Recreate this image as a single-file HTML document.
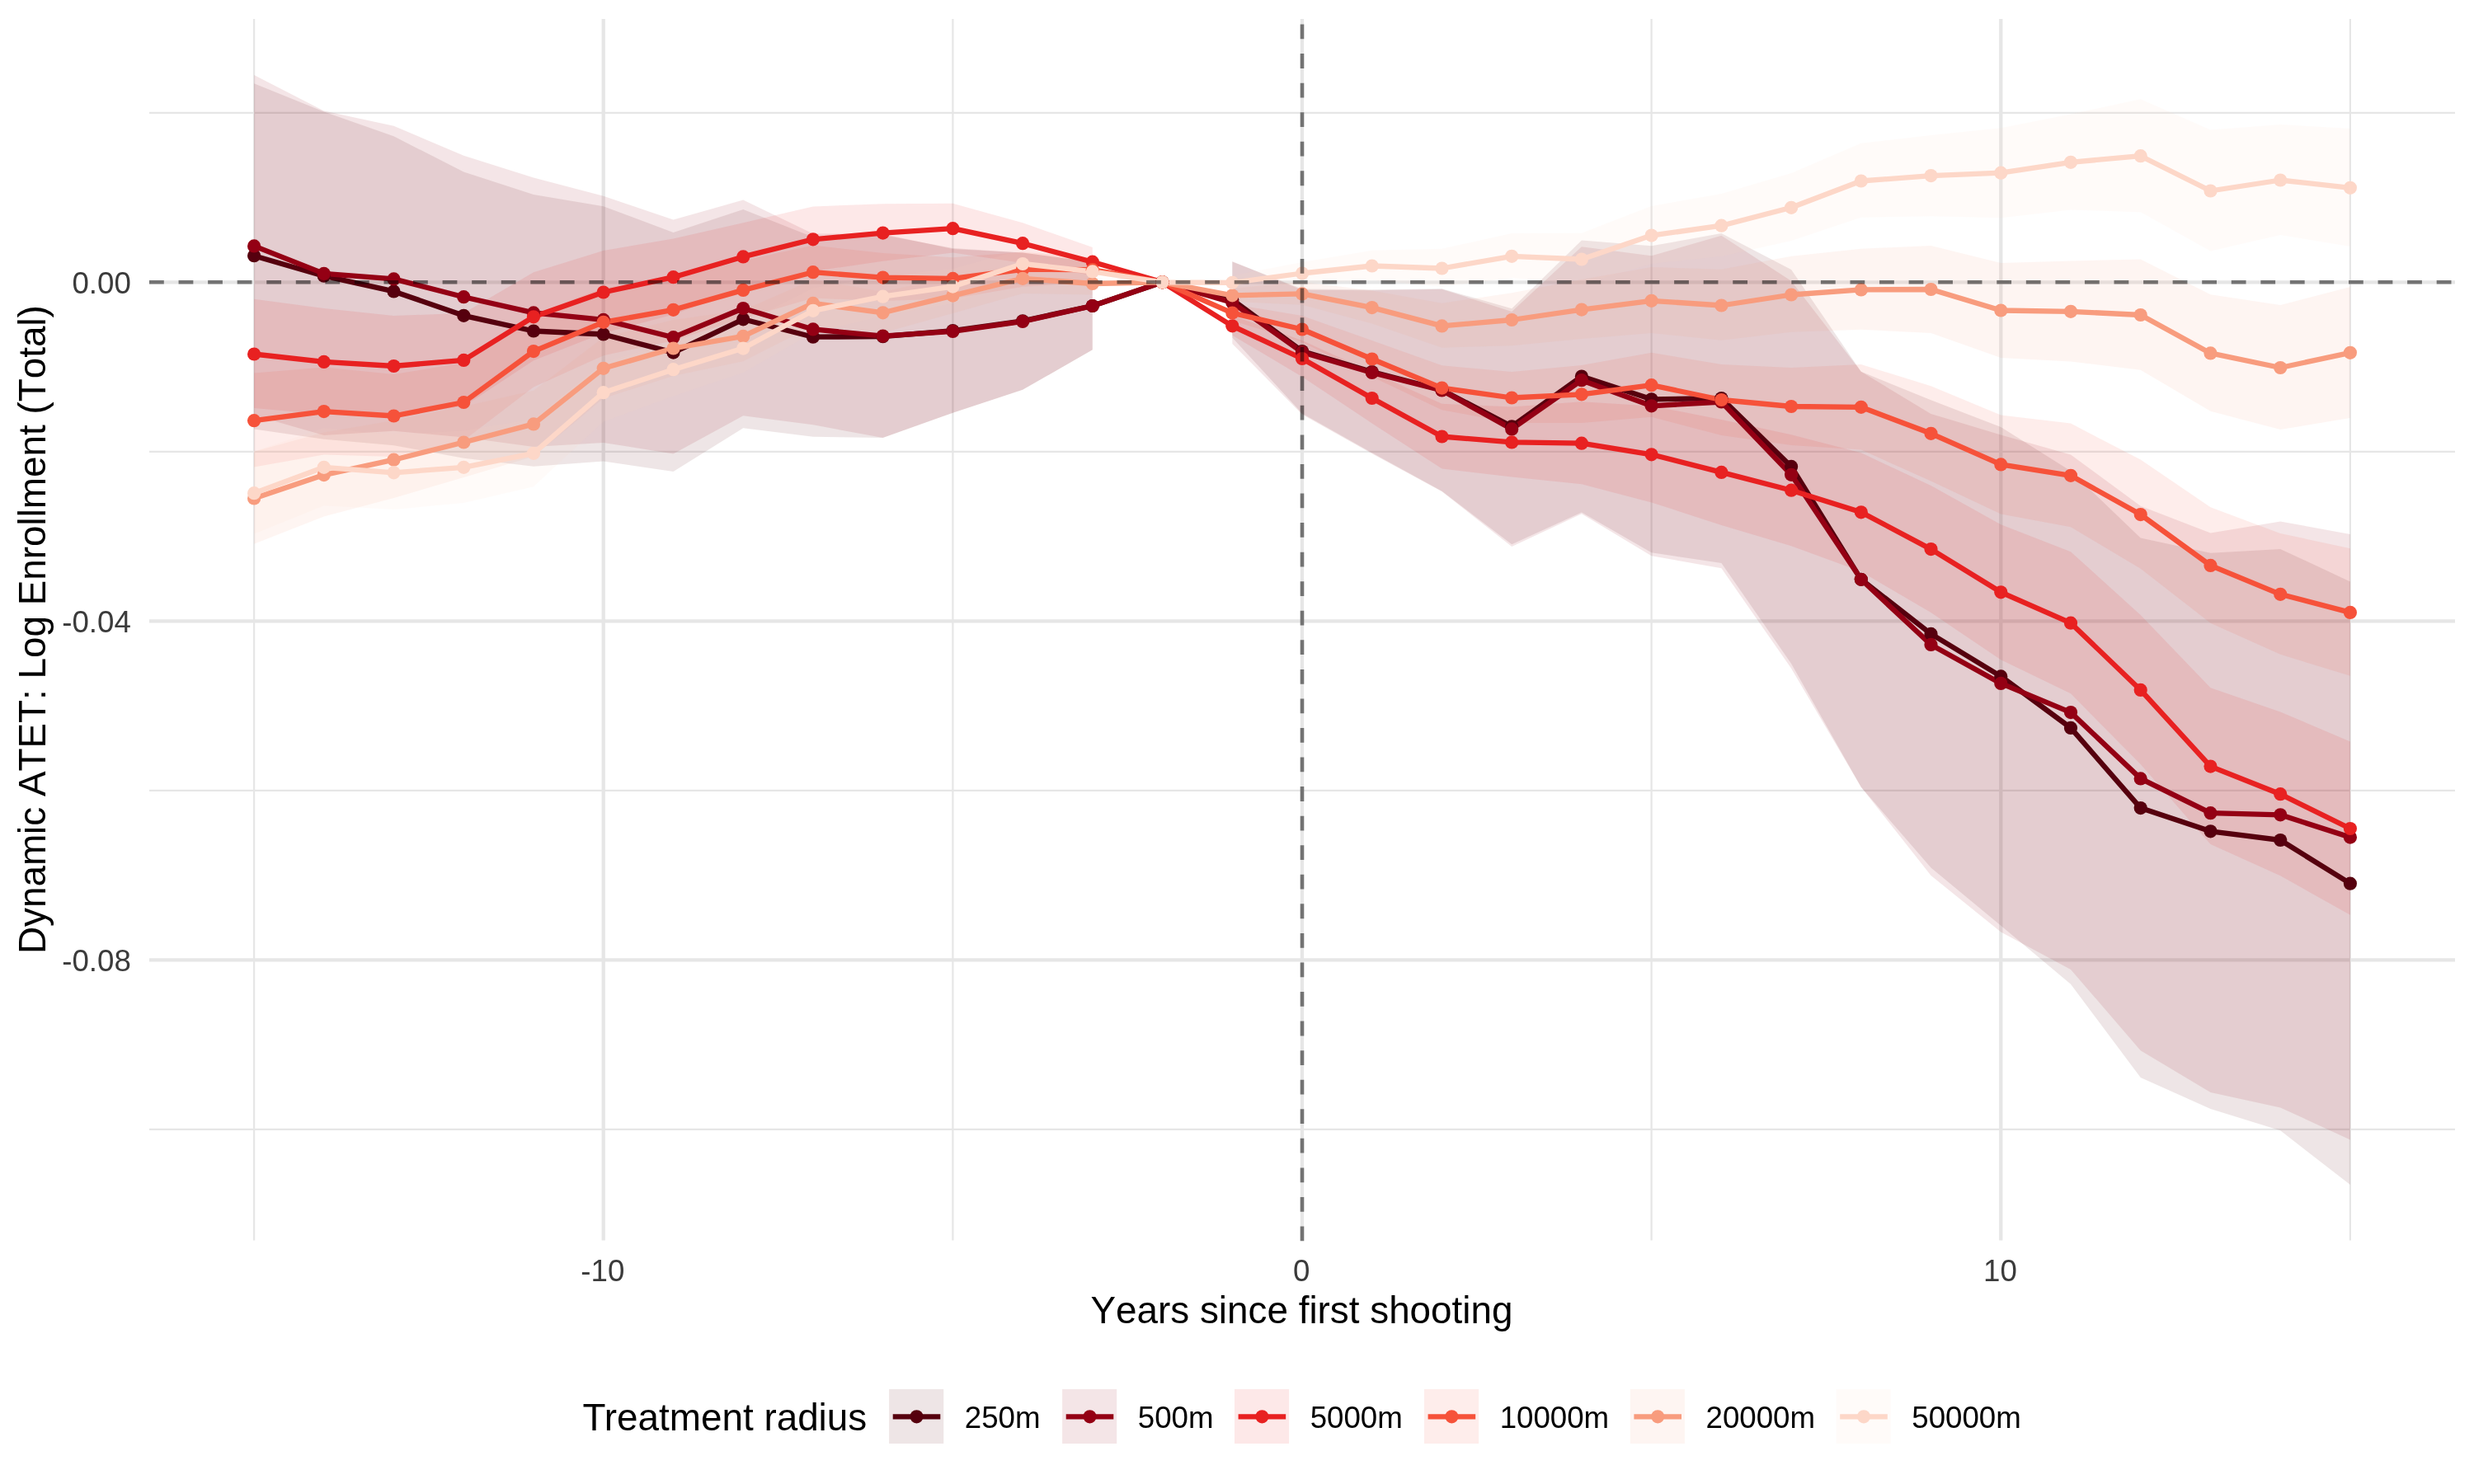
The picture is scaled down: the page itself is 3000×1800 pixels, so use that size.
<!DOCTYPE html>
<html><head><meta charset="utf-8"><title>Dynamic ATET: Log Enrollment (Total)</title>
<style>html,body{margin:0;padding:0;background:#fff}body{width:3000px;height:1800px;overflow:hidden;font-family:"Liberation Sans",sans-serif}svg{display:block;will-change:transform}text{font-kerning:none}</style>
</head><body>
<svg width="3000" height="1800" viewBox="0 0 3000 1800">
<rect width="3000" height="1800" fill="#fff"/>
<g stroke="#e6e6e6" fill="none">
<path d="M181 136.8H2977" stroke-width="2.2"/>
<path d="M181 547.8H2977" stroke-width="2.2"/>
<path d="M181 958.8H2977" stroke-width="2.2"/>
<path d="M181 1369.8H2977" stroke-width="2.2"/>
<path d="M308.1 23V1504.5" stroke-width="2.2"/>
<path d="M1155.4 23V1504.5" stroke-width="2.2"/>
<path d="M2002.6 23V1504.5" stroke-width="2.2"/>
<path d="M2849.9 23V1504.5" stroke-width="2.2"/>
<path d="M181 342.3H2977" stroke-width="4.3"/>
<path d="M181 753.3H2977" stroke-width="4.3"/>
<path d="M181 1164.3H2977" stroke-width="4.3"/>
<path d="M731.7 23V1504.5" stroke-width="4.3"/>
<path d="M1579 23V1504.5" stroke-width="4.3"/>
<path d="M2426.3 23V1504.5" stroke-width="4.3"/>
</g>
<g stroke="none" fill-opacity="0.1">
<path d="M308.1 101.3L392.8 135.5L477.5 165.3L562.3 208.6L647 236L731.7 250.2L816.5 282.1L901.2 254.1L985.9 287.4L1070.6 285L1155.4 300.9L1240.1 306.6L1324.8 317.7L1324.8 424.3L1240.1 472.8L1155.4 500.7L1070.6 531L985.9 529.8L901.2 519.3L816.5 571.9L731.7 559.6L647 565.8L562.3 555.8L477.5 540.3L392.8 532.7L308.1 520.5Z" fill="#56000e"/>
<path d="M1494.3 317.5L1579 350.5L1663.7 351.3L1748.5 350.2L1833.2 374.3L1917.9 291.5L2002.6 298.3L2087.4 283L2172.1 326.9L2256.8 450.8L2341.5 485.3L2426.3 518L2511 571.2L2595.7 652.4L2680.5 670.8L2765.2 665.9L2849.9 705.5L2849.9 1437.1L2765.2 1371.3L2680.5 1345L2595.7 1307L2511 1193.8L2426.3 1122.8L2341.5 1052.5L2256.8 954.8L2172.1 804.9L2087.4 683L2002.6 670.3L1917.9 621.5L1833.2 660.3L1748.5 595.8L1663.7 549.3L1579 501.5L1494.3 409.5Z" fill="#56000e"/>
<path d="M308.1 91.1L392.8 134.5L477.5 152.8L562.3 188.7L647 215.6L731.7 237.7L816.5 266.6L901.2 242.5L985.9 283.5L1070.6 283.8L1155.4 301.9L1240.1 306.6L1324.8 317.7L1324.8 424.3L1240.1 472.8L1155.4 500.7L1070.6 531L985.9 515.3L901.2 504.3L816.5 550.6L731.7 536.9L647 542L562.3 530.5L477.5 522.8L392.8 528.1L308.1 503.7Z" fill="#940014"/>
<path d="M1494.3 317L1579 351.7L1663.7 352.3L1748.5 350.7L1833.2 377.9L1917.9 299.2L2002.6 310.3L2087.4 285.8L2172.1 340.8L2256.8 450.8L2341.5 501.9L2426.3 527.4L2511 551.5L2595.7 613.7L2680.5 646.6L2765.2 632.4L2849.9 647.9L2849.9 1382.5L2765.2 1343.4L2680.5 1325L2595.7 1274.3L2511 1175.9L2426.3 1130.4L2341.5 1061.9L2256.8 954.8L2172.1 810.8L2087.4 689.2L2002.6 674.3L1917.9 623.2L1833.2 662.9L1748.5 596.3L1663.7 550.3L1579 502.7L1494.3 417Z" fill="#940014"/>
<path d="M308.1 362.8L392.8 374.1L477.5 383.1L562.3 379.7L647 330.2L731.7 303.9L816.5 289.6L901.2 270.3L985.9 250.4L1070.6 247.3L1155.4 246.8L1240.1 270.3L1324.8 299.9L1324.8 334.3L1240.1 318.9L1155.4 306.4L1070.6 316.7L985.9 329L901.2 351.3L816.5 381.6L731.7 403.9L647 437.2L562.3 492.9L477.5 503.7L392.8 502.5L308.1 495Z" fill="#e82121"/>
<path d="M1494.3 382.7L1579 413L1663.7 451.4L1748.5 489.7L1833.2 493.6L1917.9 487.3L2002.6 492.4L2087.4 508.9L2172.1 527.2L2256.8 549.3L2341.5 589.1L2426.3 636.3L2511 669.3L2595.7 746L2680.5 834.3L2765.2 863.4L2849.9 899.4L2849.9 1109.8L2765.2 1062.2L2680.5 1024.1L2595.7 927L2511 841.3L2426.3 800.3L2341.5 743.1L2256.8 693.3L2172.1 662.2L2087.4 636.9L2002.6 609.4L1917.9 587.3L1833.2 578.4L1748.5 568.5L1663.7 513.4L1579 457L1494.3 406.7Z" fill="#e82121"/>
<path d="M308.1 452.6L392.8 445.5L477.5 453.9L562.3 440.2L647 381.5L731.7 349.2L816.5 337.2L901.2 316.3L985.9 297.6L1070.6 307L1155.4 312.3L1240.1 305.8L1324.8 312.2L1324.8 342.2L1240.1 347.8L1155.4 362.3L1070.6 365L985.9 361.6L901.2 386.3L816.5 413.2L731.7 431.2L647 469.5L562.3 534.2L477.5 553.9L392.8 551.5L308.1 566.6Z" fill="#f6523a"/>
<path d="M1494.3 369L1579 382.9L1663.7 412.9L1748.5 443.2L1833.2 451.1L1917.9 442.9L2002.6 427.8L2087.4 442L2172.1 446L2256.8 442L2341.5 468.2L2426.3 503.4L2511 513.6L2595.7 557.6L2680.5 615.2L2765.2 647L2849.9 665.2L2849.9 819.8L2765.2 793.8L2680.5 755.8L2595.7 689.8L2511 639.2L2426.3 623.4L2341.5 583.4L2256.8 545.6L2172.1 540L2087.4 528L2002.6 505.8L1917.9 512.9L1833.2 513.1L1748.5 497.2L1663.7 456.9L1579 414.9L1494.3 389Z" fill="#f6523a"/>
<path d="M308.1 547.8L392.8 524.5L477.5 510.1L562.3 492.9L647 473.8L731.7 409.2L816.5 387.9L901.2 376.3L985.9 339.3L1070.6 353.7L1155.4 336L1240.1 320L1324.8 331.5L1324.8 357.5L1240.1 356L1155.4 380L1070.6 403.7L985.9 395.3L901.2 438.3L816.5 455.9L731.7 483.2L647 553.8L562.3 578.9L477.5 604.1L392.8 626.5L308.1 659.8Z" fill="#f89c7e"/>
<path d="M1494.3 349.7L1579 341.8L1663.7 352.4L1748.5 367.7L1833.2 355.3L1917.9 338.9L2002.6 324.1L2087.4 326.8L2172.1 310.8L2256.8 301.7L2341.5 298L2426.3 318.9L2511 316.4L2595.7 314.4L2680.5 357.2L2765.2 370.1L2849.9 347.9L2849.9 506.9L2765.2 521.1L2680.5 498.8L2595.7 448.8L2511 438.4L2426.3 434.1L2341.5 404L2256.8 399.7L2172.1 402.8L2087.4 412.8L2002.6 404.1L1917.9 410.9L1833.2 419.3L1748.5 421.7L1663.7 392.4L1579 369.8L1494.3 365.7Z" fill="#f89c7e"/>
<path d="M308.1 547.6L392.8 519.2L477.5 527.4L562.3 522.4L647 508.2L731.7 439.6L816.5 414.6L901.2 392L985.9 349.6L1070.6 335.1L1155.4 326L1240.1 302.8L1324.8 316.8L1324.8 340.8L1240.1 336.8L1155.4 368L1070.6 383.1L985.9 403.6L901.2 452L816.5 480.6L731.7 511.6L647 590.2L562.3 610L477.5 618L392.8 613.2L308.1 647.6Z" fill="#fdd7c8"/>
<path d="M1494.3 334.2L1579 317.9L1663.7 303.8L1748.5 301.8L1833.2 283.1L1917.9 282.8L2002.6 249.9L2087.4 235L2172.1 210.1L2256.8 173.8L2341.5 163.9L2426.3 155.2L2511 138.4L2595.7 120.3L2680.5 157.6L2765.2 151.1L2849.9 155.9L2849.9 298.9L2765.2 285.1L2680.5 304.6L2595.7 257.3L2511 254.4L2426.3 264.2L2341.5 262.3L2256.8 263.8L2172.1 292.1L2087.4 311L2002.6 319.9L1917.9 344.8L1833.2 337.1L1748.5 347.8L1663.7 339.8L1579 343.9L1494.3 350.2Z" fill="#fdd7c8"/>
</g>
<g fill="none" stroke-width="6.3" stroke-linejoin="round" stroke-linecap="butt">
<path d="M308.1 310.2L392.8 334.7L477.5 353.4L562.3 382.8L647 401.5L731.7 405.5L816.5 427.6L901.2 387.3L985.9 408.7L1070.6 408.2L1155.4 401.1L1240.1 389.3L1324.8 371L1409.5 342.3L1494.3 363.5L1579 426L1663.7 451L1748.5 473L1833.2 517.3L1917.9 456.5L2002.6 484.3L2087.4 483L2172.1 565.9L2256.8 702.8L2341.5 768.9L2426.3 820.4L2511 882.9L2595.7 980.1L2680.5 1008.3L2765.2 1019L2849.9 1071.7" stroke="#56000e"/>
<path d="M308.1 298.4L392.8 331.9L477.5 338.4L562.3 360.2L647 379.4L731.7 387.9L816.5 409.2L901.2 374L985.9 399.4L1070.6 407.6L1155.4 401.9L1240.1 389.9L1324.8 371L1409.5 342.3L1494.3 367L1579 427.2L1663.7 452L1748.5 473.5L1833.2 520.4L1917.9 461.2L2002.6 492.3L2087.4 487.5L2172.1 575.8L2256.8 702.8L2341.5 781.9L2426.3 828.9L2511 864.1L2595.7 944.4L2680.5 986.2L2765.2 988.3L2849.9 1015.6" stroke="#940014"/>
<path d="M308.1 429.5L392.8 438.9L477.5 444L562.3 436.9L647 384.3L731.7 354.5L816.5 336.2L901.2 311.4L985.9 290.3L1070.6 282.6L1155.4 277.2L1240.1 295.2L1324.8 317.7L1409.5 342.3L1494.3 395.3L1579 435L1663.7 483L1748.5 529.5L1833.2 536.4L1917.9 537.7L2002.6 551.3L2087.4 572.9L2172.1 594.7L2256.8 621.3L2341.5 666.1L2426.3 718.3L2511 755.7L2595.7 836.9L2680.5 929.6L2765.2 963.2L2849.9 1005" stroke="#e82121"/>
<path d="M308.1 510.2L392.8 499.1L477.5 504.5L562.3 488L647 426.1L731.7 390.8L816.5 375.8L901.2 351.9L985.9 330.2L1070.6 336.6L1155.4 337.9L1240.1 326.8L1324.8 327.2L1409.5 342.3L1494.3 379.6L1579 399.5L1663.7 435.5L1748.5 470.6L1833.2 482.5L1917.9 478.3L2002.6 467.2L2087.4 485L2172.1 493L2256.8 493.8L2341.5 525.8L2426.3 563.4L2511 576.8L2595.7 624.1L2680.5 685.9L2765.2 720.8L2849.9 742.9" stroke="#f6523a"/>
<path d="M308.1 604.4L392.8 576.1L477.5 557.7L562.3 536.5L647 514.4L731.7 446.8L816.5 422.5L901.2 407.9L985.9 367.9L1070.6 379.3L1155.4 358.6L1240.1 337.8L1324.8 344L1409.5 342.3L1494.3 358.3L1579 356.4L1663.7 373.1L1748.5 395.4L1833.2 388L1917.9 375.6L2002.6 364.8L2087.4 370.5L2172.1 357.5L2256.8 351.4L2341.5 351L2426.3 376.5L2511 377.8L2595.7 382L2680.5 428.4L2765.2 446L2849.9 427.8" stroke="#f89c7e"/>
<path d="M308.1 598.2L392.8 566.8L477.5 573.3L562.3 566.8L647 549.8L731.7 476.2L816.5 448.2L901.2 422.6L985.9 376.8L1070.6 359.7L1155.4 347.6L1240.1 320L1324.8 329.4L1409.5 342.3L1494.3 342.8L1579 331.5L1663.7 322.5L1748.5 325.5L1833.2 310.8L1917.9 314.5L2002.6 285.6L2087.4 273.7L2172.1 251.8L2256.8 219.5L2341.5 213.1L2426.3 209.7L2511 196.8L2595.7 189.2L2680.5 231.5L2765.2 218.5L2849.9 227.8" stroke="#fdd7c8"/>
</g>
<g fill="#56000e">
<circle cx="308.1" cy="310.2" r="8.1"/><circle cx="392.8" cy="334.7" r="8.1"/><circle cx="477.5" cy="353.4" r="8.1"/><circle cx="562.3" cy="382.8" r="8.1"/><circle cx="647" cy="401.5" r="8.1"/><circle cx="731.7" cy="405.5" r="8.1"/><circle cx="816.5" cy="427.6" r="8.1"/><circle cx="901.2" cy="387.3" r="8.1"/><circle cx="985.9" cy="408.7" r="8.1"/><circle cx="1070.6" cy="408.2" r="8.1"/><circle cx="1155.4" cy="401.1" r="8.1"/><circle cx="1240.1" cy="389.3" r="8.1"/><circle cx="1324.8" cy="371" r="8.1"/><circle cx="1409.5" cy="342.3" r="8.1"/><circle cx="1494.3" cy="363.5" r="8.1"/><circle cx="1579" cy="426" r="8.1"/><circle cx="1663.7" cy="451" r="8.1"/><circle cx="1748.5" cy="473" r="8.1"/><circle cx="1833.2" cy="517.3" r="8.1"/><circle cx="1917.9" cy="456.5" r="8.1"/><circle cx="2002.6" cy="484.3" r="8.1"/><circle cx="2087.4" cy="483" r="8.1"/><circle cx="2172.1" cy="565.9" r="8.1"/><circle cx="2256.8" cy="702.8" r="8.1"/><circle cx="2341.5" cy="768.9" r="8.1"/><circle cx="2426.3" cy="820.4" r="8.1"/><circle cx="2511" cy="882.9" r="8.1"/><circle cx="2595.7" cy="980.1" r="8.1"/><circle cx="2680.5" cy="1008.3" r="8.1"/><circle cx="2765.2" cy="1019" r="8.1"/><circle cx="2849.9" cy="1071.7" r="8.1"/>
</g>
<g fill="#940014">
<circle cx="308.1" cy="298.4" r="8.1"/><circle cx="392.8" cy="331.9" r="8.1"/><circle cx="477.5" cy="338.4" r="8.1"/><circle cx="562.3" cy="360.2" r="8.1"/><circle cx="647" cy="379.4" r="8.1"/><circle cx="731.7" cy="387.9" r="8.1"/><circle cx="816.5" cy="409.2" r="8.1"/><circle cx="901.2" cy="374" r="8.1"/><circle cx="985.9" cy="399.4" r="8.1"/><circle cx="1070.6" cy="407.6" r="8.1"/><circle cx="1155.4" cy="401.9" r="8.1"/><circle cx="1240.1" cy="389.9" r="8.1"/><circle cx="1324.8" cy="371" r="8.1"/><circle cx="1409.5" cy="342.3" r="8.1"/><circle cx="1494.3" cy="367" r="8.1"/><circle cx="1579" cy="427.2" r="8.1"/><circle cx="1663.7" cy="452" r="8.1"/><circle cx="1748.5" cy="473.5" r="8.1"/><circle cx="1833.2" cy="520.4" r="8.1"/><circle cx="1917.9" cy="461.2" r="8.1"/><circle cx="2002.6" cy="492.3" r="8.1"/><circle cx="2087.4" cy="487.5" r="8.1"/><circle cx="2172.1" cy="575.8" r="8.1"/><circle cx="2256.8" cy="702.8" r="8.1"/><circle cx="2341.5" cy="781.9" r="8.1"/><circle cx="2426.3" cy="828.9" r="8.1"/><circle cx="2511" cy="864.1" r="8.1"/><circle cx="2595.7" cy="944.4" r="8.1"/><circle cx="2680.5" cy="986.2" r="8.1"/><circle cx="2765.2" cy="988.3" r="8.1"/><circle cx="2849.9" cy="1015.6" r="8.1"/>
</g>
<g fill="#e82121">
<circle cx="308.1" cy="429.5" r="8.1"/><circle cx="392.8" cy="438.9" r="8.1"/><circle cx="477.5" cy="444" r="8.1"/><circle cx="562.3" cy="436.9" r="8.1"/><circle cx="647" cy="384.3" r="8.1"/><circle cx="731.7" cy="354.5" r="8.1"/><circle cx="816.5" cy="336.2" r="8.1"/><circle cx="901.2" cy="311.4" r="8.1"/><circle cx="985.9" cy="290.3" r="8.1"/><circle cx="1070.6" cy="282.6" r="8.1"/><circle cx="1155.4" cy="277.2" r="8.1"/><circle cx="1240.1" cy="295.2" r="8.1"/><circle cx="1324.8" cy="317.7" r="8.1"/><circle cx="1409.5" cy="342.3" r="8.1"/><circle cx="1494.3" cy="395.3" r="8.1"/><circle cx="1579" cy="435" r="8.1"/><circle cx="1663.7" cy="483" r="8.1"/><circle cx="1748.5" cy="529.5" r="8.1"/><circle cx="1833.2" cy="536.4" r="8.1"/><circle cx="1917.9" cy="537.7" r="8.1"/><circle cx="2002.6" cy="551.3" r="8.1"/><circle cx="2087.4" cy="572.9" r="8.1"/><circle cx="2172.1" cy="594.7" r="8.1"/><circle cx="2256.8" cy="621.3" r="8.1"/><circle cx="2341.5" cy="666.1" r="8.1"/><circle cx="2426.3" cy="718.3" r="8.1"/><circle cx="2511" cy="755.7" r="8.1"/><circle cx="2595.7" cy="836.9" r="8.1"/><circle cx="2680.5" cy="929.6" r="8.1"/><circle cx="2765.2" cy="963.2" r="8.1"/><circle cx="2849.9" cy="1005" r="8.1"/>
</g>
<g fill="#f6523a">
<circle cx="308.1" cy="510.2" r="8.1"/><circle cx="392.8" cy="499.1" r="8.1"/><circle cx="477.5" cy="504.5" r="8.1"/><circle cx="562.3" cy="488" r="8.1"/><circle cx="647" cy="426.1" r="8.1"/><circle cx="731.7" cy="390.8" r="8.1"/><circle cx="816.5" cy="375.8" r="8.1"/><circle cx="901.2" cy="351.9" r="8.1"/><circle cx="985.9" cy="330.2" r="8.1"/><circle cx="1070.6" cy="336.6" r="8.1"/><circle cx="1155.4" cy="337.9" r="8.1"/><circle cx="1240.1" cy="326.8" r="8.1"/><circle cx="1324.8" cy="327.2" r="8.1"/><circle cx="1409.5" cy="342.3" r="8.1"/><circle cx="1494.3" cy="379.6" r="8.1"/><circle cx="1579" cy="399.5" r="8.1"/><circle cx="1663.7" cy="435.5" r="8.1"/><circle cx="1748.5" cy="470.6" r="8.1"/><circle cx="1833.2" cy="482.5" r="8.1"/><circle cx="1917.9" cy="478.3" r="8.1"/><circle cx="2002.6" cy="467.2" r="8.1"/><circle cx="2087.4" cy="485" r="8.1"/><circle cx="2172.1" cy="493" r="8.1"/><circle cx="2256.8" cy="493.8" r="8.1"/><circle cx="2341.5" cy="525.8" r="8.1"/><circle cx="2426.3" cy="563.4" r="8.1"/><circle cx="2511" cy="576.8" r="8.1"/><circle cx="2595.7" cy="624.1" r="8.1"/><circle cx="2680.5" cy="685.9" r="8.1"/><circle cx="2765.2" cy="720.8" r="8.1"/><circle cx="2849.9" cy="742.9" r="8.1"/>
</g>
<g fill="#f89c7e">
<circle cx="308.1" cy="604.4" r="8.1"/><circle cx="392.8" cy="576.1" r="8.1"/><circle cx="477.5" cy="557.7" r="8.1"/><circle cx="562.3" cy="536.5" r="8.1"/><circle cx="647" cy="514.4" r="8.1"/><circle cx="731.7" cy="446.8" r="8.1"/><circle cx="816.5" cy="422.5" r="8.1"/><circle cx="901.2" cy="407.9" r="8.1"/><circle cx="985.9" cy="367.9" r="8.1"/><circle cx="1070.6" cy="379.3" r="8.1"/><circle cx="1155.4" cy="358.6" r="8.1"/><circle cx="1240.1" cy="337.8" r="8.1"/><circle cx="1324.8" cy="344" r="8.1"/><circle cx="1409.5" cy="342.3" r="8.1"/><circle cx="1494.3" cy="358.3" r="8.1"/><circle cx="1579" cy="356.4" r="8.1"/><circle cx="1663.7" cy="373.1" r="8.1"/><circle cx="1748.5" cy="395.4" r="8.1"/><circle cx="1833.2" cy="388" r="8.1"/><circle cx="1917.9" cy="375.6" r="8.1"/><circle cx="2002.6" cy="364.8" r="8.1"/><circle cx="2087.4" cy="370.5" r="8.1"/><circle cx="2172.1" cy="357.5" r="8.1"/><circle cx="2256.8" cy="351.4" r="8.1"/><circle cx="2341.5" cy="351" r="8.1"/><circle cx="2426.3" cy="376.5" r="8.1"/><circle cx="2511" cy="377.8" r="8.1"/><circle cx="2595.7" cy="382" r="8.1"/><circle cx="2680.5" cy="428.4" r="8.1"/><circle cx="2765.2" cy="446" r="8.1"/><circle cx="2849.9" cy="427.8" r="8.1"/>
</g>
<g fill="#fdd7c8">
<circle cx="308.1" cy="598.2" r="8.1"/><circle cx="392.8" cy="566.8" r="8.1"/><circle cx="477.5" cy="573.3" r="8.1"/><circle cx="562.3" cy="566.8" r="8.1"/><circle cx="647" cy="549.8" r="8.1"/><circle cx="731.7" cy="476.2" r="8.1"/><circle cx="816.5" cy="448.2" r="8.1"/><circle cx="901.2" cy="422.6" r="8.1"/><circle cx="985.9" cy="376.8" r="8.1"/><circle cx="1070.6" cy="359.7" r="8.1"/><circle cx="1155.4" cy="347.6" r="8.1"/><circle cx="1240.1" cy="320" r="8.1"/><circle cx="1324.8" cy="329.4" r="8.1"/><circle cx="1409.5" cy="342.3" r="8.1"/><circle cx="1494.3" cy="342.8" r="8.1"/><circle cx="1579" cy="331.5" r="8.1"/><circle cx="1663.7" cy="322.5" r="8.1"/><circle cx="1748.5" cy="325.5" r="8.1"/><circle cx="1833.2" cy="310.8" r="8.1"/><circle cx="1917.9" cy="314.5" r="8.1"/><circle cx="2002.6" cy="285.6" r="8.1"/><circle cx="2087.4" cy="273.7" r="8.1"/><circle cx="2172.1" cy="251.8" r="8.1"/><circle cx="2256.8" cy="219.5" r="8.1"/><circle cx="2341.5" cy="213.1" r="8.1"/><circle cx="2426.3" cy="209.7" r="8.1"/><circle cx="2511" cy="196.8" r="8.1"/><circle cx="2595.7" cy="189.2" r="8.1"/><circle cx="2680.5" cy="231.5" r="8.1"/><circle cx="2765.2" cy="218.5" r="8.1"/><circle cx="2849.9" cy="227.8" r="8.1"/>
</g>
<g stroke="#000" stroke-width="4.6" stroke-opacity="0.5" stroke-dasharray="17.78 17.78" fill="none">
<path d="M181 342.3H2977"/>
<path d="M1579 1505.3V23"/>
</g>
<g font-family="Liberation Sans, sans-serif" font-size="36.67" fill="#3b3b3b">
<text x="730.8" y="1553.8" text-anchor="middle">-10</text>
<text x="1578.1" y="1553.8" text-anchor="middle">0</text>
<text x="2425.4" y="1553.8" text-anchor="middle">10</text>
<text x="158.8" y="355.6" text-anchor="end">0.00</text>
<text x="158.8" y="766.6" text-anchor="end">-0.04</text>
<text x="158.8" y="1177.6" text-anchor="end">-0.08</text>
</g>
<g font-family="Liberation Sans, sans-serif" font-size="45.83" fill="#000">
<text x="1578.5" y="1604.5" text-anchor="middle">Years since first shooting</text>
<text transform="translate(55.2 763.6) rotate(-90)" text-anchor="middle">Dynamic ATET: Log Enrollment (Total)</text>
<text x="706.5" y="1735" style="font-kerning:normal">Treatment radius</text>
</g>
<g font-family="Liberation Sans, sans-serif" font-size="36.67" fill="#000">
<rect x="1078.1" y="1685" width="66.1" height="66" fill="#56000e" fill-opacity="0.1" stroke="none"/>
<path d="M1082.7 1718.3H1140.3" stroke="#56000e" stroke-width="6.3" fill="none"/>
<circle cx="1111.5" cy="1718.3" r="8.1" fill="#56000e" stroke="none"/>
<text x="1169.8" y="1732.4">250m</text>
<rect x="1288.1" y="1685" width="66.1" height="66" fill="#940014" fill-opacity="0.1" stroke="none"/>
<path d="M1292.7 1718.3H1350.3" stroke="#940014" stroke-width="6.3" fill="none"/>
<circle cx="1321.5" cy="1718.3" r="8.1" fill="#940014" stroke="none"/>
<text x="1379.8" y="1732.4">500m</text>
<rect x="1497" y="1685" width="66.1" height="66" fill="#e82121" fill-opacity="0.1" stroke="none"/>
<path d="M1501.6 1718.3H1559.2" stroke="#e82121" stroke-width="6.3" fill="none"/>
<circle cx="1530.4" cy="1718.3" r="8.1" fill="#e82121" stroke="none"/>
<text x="1588.7" y="1732.4">5000m</text>
<rect x="1727" y="1685" width="66.1" height="66" fill="#f6523a" fill-opacity="0.1" stroke="none"/>
<path d="M1731.6 1718.3H1789.2" stroke="#f6523a" stroke-width="6.3" fill="none"/>
<circle cx="1760.4" cy="1718.3" r="8.1" fill="#f6523a" stroke="none"/>
<text x="1818.7" y="1732.4">10000m</text>
<rect x="1976.8" y="1685" width="66.1" height="66" fill="#f89c7e" fill-opacity="0.1" stroke="none"/>
<path d="M1981.4 1718.3H2039" stroke="#f89c7e" stroke-width="6.3" fill="none"/>
<circle cx="2010.2" cy="1718.3" r="8.1" fill="#f89c7e" stroke="none"/>
<text x="2068.5" y="1732.4">20000m</text>
<rect x="2226.6" y="1685" width="66.1" height="66" fill="#fdd7c8" fill-opacity="0.1" stroke="none"/>
<path d="M2231.2 1718.3H2288.8" stroke="#fdd7c8" stroke-width="6.3" fill="none"/>
<circle cx="2260" cy="1718.3" r="8.1" fill="#fdd7c8" stroke="none"/>
<text x="2318.3" y="1732.4">50000m</text>
</g>
</svg>
</body></html>
